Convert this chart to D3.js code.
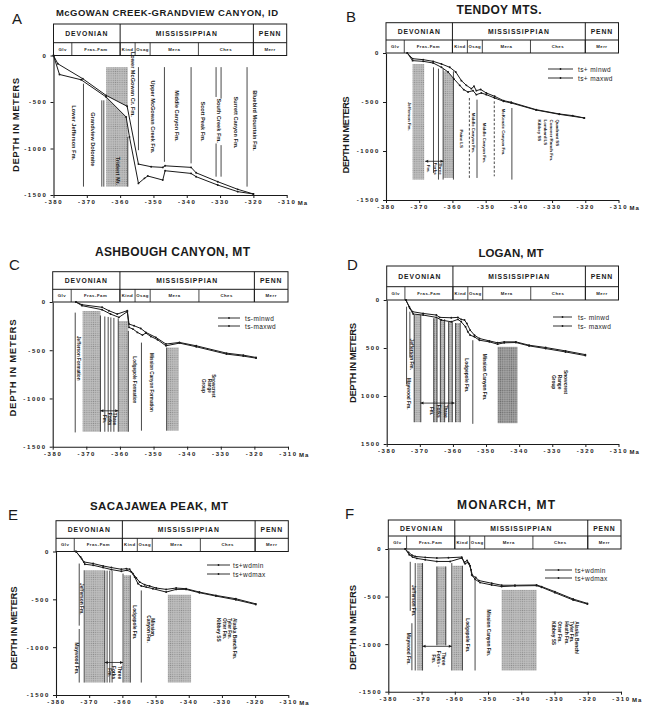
<!DOCTYPE html>
<html>
<head>
<meta charset="utf-8">
<script src="https://cdn.jsdelivr.net/npm/d3@7"></script>
<style>
  body { margin: 0; background: #fff; }
  svg { font-family: "Liberation Sans", Arial, sans-serif; }
</style>
</head>
<body>
<script>
// shared time scale (Ma)
const periods = [["DEVONIAN", -380, -360], ["MISSISSIPPIAN", -360, -320], ["PENN", -320, -310]];
const stages = [["Glv", -380, -374.5], ["Fras-Fam", -374.5, -360], ["Kind", -360, -355.5], ["Osag", -355.5, -351],
                ["Mera", -351, -336.5], ["Ches", -336.5, -320], ["Merr", -320, -310]];
const xTicks = [-380, -370, -360, -350, -340, -330, -320, -310];
const yTicks = [0, -500, -1000, -1500];

const titles = ["McGOWAN CREEK-GRANDVIEW CANYON, ID", "TENDOY MTS.", "ASHBOUGH CANYON, MT", "LOGAN, MT", "SACAJAWEA PEAK, MT", "MONARCH,  MT"];
const letters = ["A", "B", "C", "D", "E", "F"];
const legendNames = [null, ["ts+ minwd", "ts+ maxwd"], ["ts-minwd", "ts-maxwd"], ["ts- minwd", "ts- maxwd"],
                     ["ts+wdmin", "ts+wdmax"], ["ts+wdmin", "ts+wdmax"]];

// curves: [Ma, depth m]
const aMin = [[-380,0],[-378.7,-89],[-371.2,-250],[-364.2,-429],[-357.9,-546],[-354.5,-1168],[-350.7,-1196],[-347.2,-1203],
  [-346.5,-1186],[-338.7,-1203],[-337.2,-1261],[-330.7,-1357],[-324.7,-1439],[-320,-1489]];
const aMax = [[-380,0],[-378.2,-204],[-371.7,-261],[-364.2,-446],[-358.2,-661],[-357.2,-875],[-354.5,-1375],[-352.7,-1321],
  [-351.7,-1296],[-347.2,-1339],[-346.5,-1239],[-338.7,-1268],[-337.2,-1303],[-330.7,-1393],[-324.7,-1464],[-320,-1489]];
const bMin = [[-373.6,0],[-372.0,-58],[-368.8,-68],[-365.8,-85],[-363.3,-112],[-360.8,-146],[-359.0,-194],[-357.3,-282],
  [-355.8,-330],[-354.3,-364],[-353.5,-340],[-352.8,-384],[-351.5,-372],[-349.8,-408],[-347.3,-442],[-344.6,-486],
  [-342.3,-503],[-334.8,-578],[-327.8,-622],[-323.8,-639],[-320.3,-663]];
const bMax = [[-373.6,0],[-372.0,-78],[-368.8,-85],[-365.8,-102],[-363.3,-146],[-361.3,-194],[-359.6,-262],[-357.8,-330],
  [-356.6,-374],[-355.3,-398],[-353.8,-384],[-352.8,-425],[-351.3,-408],[-349.8,-425],[-347.3,-459],[-344.6,-493],
  [-342.3,-510],[-334.8,-582],[-327.8,-626],[-320.3,-663]];
const cMin = [[-373.1,0],[-371.3,-28],[-365.3,-55],[-363.3,-90],[-360.8,-125],[-357.8,-90],[-357.3,-229],[-355.8,-246],
  [-353.8,-274],[-352.3,-315],[-349.3,-367],[-346.3,-436],[-342.3,-419],[-337.3,-454],[-328.3,-530],[-323.3,-551],[-319.5,-575]];
const cMax = [[-373.1,0],[-371.3,-38],[-365.3,-80],[-362.8,-125],[-360.3,-159],[-357.8,-100],[-357.3,-263],[-356.1,-281],
  [-354.8,-315],[-353.3,-343],[-352.3,-322],[-350.8,-357],[-348.8,-391],[-346.3,-454],[-342.3,-426],[-337.3,-464],
  [-328.3,-540],[-323.3,-561],[-319.5,-582]];
const dMin = [[-374.2,0],[-373.2,-70],[-372.2,-122],[-369.0,-140],[-365.0,-157],[-364.0,-181],[-360.5,-185],[-358.5,-181],
  [-357.5,-202],[-356.5,-209],[-355.8,-244],[-354.8,-314],[-353.5,-366],[-352.0,-401],[-349.0,-426],[-346.5,-446],
  [-344.5,-436],[-341.0,-436],[-337.0,-471],[-332.0,-495],[-326.0,-530],[-320.0,-569]];
const dMax = [[-374.2,0],[-373.0,-87],[-372.0,-146],[-369.0,-157],[-365.0,-181],[-363.5,-209],[-360.5,-227],[-358.5,-202],
  [-357.5,-227],[-356.2,-279],[-355.5,-331],[-354.8,-366],[-353.5,-384],[-352.0,-419],[-349.0,-436],[-346.5,-460],
  [-344.5,-446],[-341.0,-443],[-337.0,-478],[-332.0,-506],[-326.0,-541],[-320.0,-579]];
const eMin = [[-374.0,0],[-372.6,-56],[-371.6,-109],[-368.8,-126],[-365.8,-151],[-363.3,-168],[-360.3,-186],[-358.8,-179],
  [-357.8,-186],[-356.8,-231],[-355.8,-277],[-354.8,-319],[-353.3,-347],[-351.8,-361],[-349.8,-382],[-346.8,-396],
  [-343.8,-382],[-340.8,-389],[-336.8,-424],[-331.8,-459],[-325.8,-494],[-319.8,-547]];
const eMax = [[-374.0,0],[-372.3,-74],[-371.3,-133],[-368.8,-144],[-365.8,-168],[-363.3,-189],[-360.3,-207],[-358.6,-196],
  [-357.3,-214],[-356.3,-266],[-355.3,-336],[-354.3,-361],[-352.8,-372],[-350.8,-389],[-346.8,-424],[-343.8,-396],
  [-340.8,-396],[-336.8,-431],[-331.8,-466],[-325.8,-505],[-319.8,-554]];
const fMin = [[-374.9,0],[-373.9,-35],[-372.9,-64],[-371.9,-78],[-368.9,-88],[-365.4,-95],[-361.9,-92],[-357.9,-85],
  [-357.1,-141],[-356.3,-120],[-355.7,-155],[-355.1,-219],[-354.7,-279],[-353.7,-300],[-352.7,-332],[-348.9,-360],
  [-345.9,-381],[-341.9,-381],[-335.4,-378],[-333.9,-395],[-329.9,-448],[-324.4,-526],[-320.1,-572]];
const fMax = [[-374.9,0],[-373.7,-60],[-372.7,-85],[-371.4,-99],[-368.9,-113],[-365.4,-131],[-361.4,-131],[-357.9,-95],
  [-356.9,-155],[-356.1,-141],[-355.4,-176],[-354.9,-272],[-353.9,-318],[-352.4,-353],[-348.9,-378],[-345.9,-395],
  [-341.9,-388],[-335.4,-385],[-333.9,-402],[-329.9,-459],[-324.4,-536],[-320.1,-579]];

// formation boundaries: [Ma, top, bottom, dashed]
const aLines = [[-371.0,-303,-1410],[-365.5,-482,-1410],[-364.9,-482,-1410],[-357.7,-875,-1410],[-354.5,-125,-1018],
  [-346.7,-125,-1143],[-338.7,-125,-1160],[-331.2,-125,-446],[-331.2,-946,-1303],[-329.7,-125,-464],[-329.7,-964,-1303],
  [-321.9,-125,-1410]];
const bLines = [[-365.7,-146,-1224],[-364.2,-160,-1292],[-362.8,-160,-1292],[-359.7,-187,-1292],[-354.9,-459,-1292,1],
  [-352.6,-476,-1275],[-347.4,-493,-1258,1],[-342.1,-561,-1292]];
const cLines = [[-373.3,-110,-1352],[-365.8,-140,-1345],[-364.5,-150,-1345],[-363.5,-155,-1345],[-362.7,-160,-1345],
  [-361.8,-165,-1345],[-360.5,-170,-1345],[-357.5,-300,-1345],[-353.6,-421,-1334],[-346.1,-472,-1334]];
const dLines = [[-374.0,-70,-880],[-373.0,-122,-600],[-371.7,-157,-1273],[-369.7,-157,-1273],[-365.8,-190,-1273],
  [-364.8,-190,-1273],[-363.8,-200,-1273],[-362.5,-200,-1273],[-361.3,-227,-1273],[-360.2,-227,-1273],
  [-359.2,-240,-1273],[-357.8,-240,-1273],[-354.0,-419,-1290]];
const eLines = [[-373.0,-126,-775],[-373.0,-810,-1370],[-371.5,-196,-1370],[-365.3,-200,-1370],[-364.6,-200,-1370],
  [-363.8,-200,-1370],[-363.1,-200,-1370],[-359.8,-231,-1370],[-357.6,-249,-1370],[-354.3,-407,-1370]];
const fLines = [[-373.4,-135,-650],[-372.9,-780,-1275],[-371.9,-148,-1277],[-369.7,-148,-1277],[-365.4,-184,-1013],
  [-362.7,-184,-1013],[-360.9,-148,-1277],[-357.7,-176,-1277],[-353.9,-325,-1277]];

// shaded units: [Ma from, Ma to, top, bottom, dense]
const aRects = [[-364.2,-357.7,-125,-1410]];
const bRects = [[-372.0,-368.5,-112,-1292],[-362.7,-359.7,-187,-1275]];
const cRects = [[-371.1,-365.8,-93,-1345],[-360.5,-357.5,-197,-1345],[-346.1,-342.5,-472,-1334]];
const dRects = [[-371.7,-369.7,-157,-1273],[-365.8,-364.8,-190,-1273],[-363.8,-362.5,-200,-1273],[-361.3,-360.2,-227,-1273],
  [-359.2,-357.8,-240,-1273],[-346.5,-340.5,-488,-1283,1]];
const eRects = [[-371.3,-365.3,-196,-1370],[-359.6,-357.6,-249,-1370],[-346.3,-339.3,-452,-1370]];
const fRects = [[-371.4,-369.7,-148,-1277],[-365.4,-362.7,-184,-1013],[-360.7,-357.7,-176,-1277],[-345.9,-335.4,-430,-1277]];

// Three Forks arrows: [Ma from, Ma to, depth]
const bArrows = [[-368.2,-362.7,-1105]];
const cArrows = [[-365.8,-360.5,-1128]];
const dArrows = [[-369.8,-359.5,-1074]];
const eArrows = [[-365.3,-359.8,-1160]];
const fArrows = [[-369.7,-360.9,-1023]];

// formation names (rotated): [text, Ma, depth, anchor]
const aLabels = [["Lower Jefferson Fm.",-373.9,-830],["Grandview Dolomite",-368.2,-900],["Trident Mr.",-360.6,-1240],
  ["Lower McGowan Cr. Fm.",-356.0,-310],["Upper McGowan Creek Fm.",-350.2,-660],["Middle Canyon Fm.",-343.0,-650],
  ["Scott Peak Fm.",-335.0,-710],["South Creek Fm.",-330.4,-700],["Surrett Canyon Fm.",-325.2,-720],
  ["Bluebird Mountain Fm.",-319.5,-700]];
const bLabels = [["Jefferson Fm.",-372.8,-646],["Fm.",-367.3,-1180],["Forks",-365.0,-1180],["Three",-363.5,-1180],
  ["Paine LS",-357.2,-874],["Middle Canyon Fm.",-353.6,-815],["Middle Canyon Fm.",-350.3,-917],
  ["McKenzie Canyon Fm.",-344.6,-806],["Quadrant SS",-328.3,-679,"start"],["Conover Ranch Fm.",-330.3,-679,"start"],
  ["Lombard LS",-332.1,-679,"start"],["Kibbey SS",-333.8,-679,"start"]];
const cLabels = [["Jefferson Formation",-372.3,-583],["Fm.",-364.5,-1214],["Forks",-363.1,-1214],["Three",-361.5,-1214],
  ["Lodgepole Formation",-355.8,-807],["Mission Canyon Formation",-350.5,-834],["Snowcrest",-332.1,-869],
  ["Range",-333.5,-869],["Group",-335.1,-869]];
const dLabels = [["Jefferson Fm.",-372.5,-565],["Maywood Fm.",-373.5,-977],["Fm.",-366.5,-1158],["Forks",-364.5,-1158],
  ["Three",-362.3,-1158],["Lodgepole Fm.",-355.8,-785],["Mission Canyon Fm.",-350.5,-802],["Snowcrest",-326.0,-855],
  ["Range",-327.7,-855],["Group",-329.5,-855]];
const eLabels = [["Jefferson Fm.",-372.3,-494],["Maywood Fm.",-373.8,-1118],["Fm.",-364.0,-1265],["Forks",-362.6,-1265],
  ["Three",-360.8,-1265],["Lodgepole Fm.",-356.3,-740],["Mission",-350.8,-790],["Canyon Fm.",-352.0,-810],
  ["Alaska Bench Fm.",-326.3,-694,"start"],["Tyler Fm.",-327.6,-694,"start"],["Otter Fm.",-329.1,-694,"start"],
  ["Kibbey SS",-331.1,-694,"start"]];
const fLabels = [["Jefferson Fm.",-372.4,-543],["Maywood Fm.",-373.9,-1048],["Three",-363.4,-1154],["Forks -",-364.9,-1154],
  ["Fm.",-366.4,-1154],["Lodgepole Fm.",-356.1,-907],["Mission Canyon Fm.",-349.9,-882],
  ["Alaska Bench/",-323.3,-760,"start"],["Tyler Fm.",-324.8,-760,"start"],["Heath Fm.",-326.3,-760,"start"],
  ["Otter Fm.",-328.4,-760,"start"],["Kibbey SS",-330.2,-760,"start"]];

// panel placement on the page
const boxes = [
  {ax:53.5, right:286.7, ht:24, hm:42.7, y0:55.5, y1:195, tx:167, ty:15.5, tw:222, ts:9.5, lx:12, ly:23.5, yx:15, yy:125, yw:94, fs:5.6},
  {ax:386, right:618.5, ht:22.7, hm:40, y0:53, y1:200, tx:499, ty:13.5, tw:85, ts:12, lx:346, ly:22, yx:345, yy:135, yw:77, fs:4.4, leg:[548,573,578,69,78]},
  {ax:52.7, right:288, ht:271.7, hm:289.3, y0:302, y1:446.7, tx:172.5, ty:256, tw:155, ts:12, lx:9, ly:270, yx:12, yy:368, yw:97, fs:4.6, leg:[218,240,245,318,326]},
  {ax:386.7, right:618.5, ht:266, hm:286.7, y0:300, y1:444, tx:511, ty:257, tw:65, ts:11.5, lx:347, ly:270, yx:352, yy:363, yw:80, fs:4.8, leg:[553,572,578,317,326], abs:true},
  {ax:56, right:288.3, ht:520.7, hm:538.3, y0:551.5, y1:695, tx:159, ty:510, tw:138, ts:11.5, lx:8, ly:520, yx:13, yy:628, yw:83, fs:4.8, leg:[207,230,233,565,574]},
  {ax:388.3, right:621, ht:520, hm:536, y0:549, y1:691.7, tx:506, ty:509, tw:98, ts:12, lx:345, ly:519, yx:352, yy:627.5, yw:85, fs:4.8, leg:[545,572,575,570,578]}
];
const content = [
  [aMin, aMax, aLines, aRects, [], aLabels],
  [bMin, bMax, bLines, bRects, bArrows, bLabels],
  [cMin, cMax, cLines, cRects, cArrows, cLabels],
  [dMin, dMax, dLines, dRects, dArrows, dLabels],
  [eMin, eMax, eLines, eRects, eArrows, eLabels],
  [fMin, fMax, fLines, fRects, fArrows, fLabels]
];

const svg = d3.select("body").append("svg").attr("width", 650).attr("height", 715);
const ink = "#1a1a1a";

// stipple fills, low contrast so they read as a fine grey
const defs = svg.append("defs");
const p1 = defs.append("pattern").attr("id", "stip").attr("width", 2.2).attr("height", 2.2).attr("patternUnits", "userSpaceOnUse");
p1.append("rect").attr("width", 2.2).attr("height", 2.2).attr("fill", "#bdbdbd");
p1.append("circle").attr("cx", 1.1).attr("cy", 1.1).attr("r", 0.6).attr("fill", "#8c8c8c");
const p2 = defs.append("pattern").attr("id", "stipD").attr("width", 2.2).attr("height", 2.2).attr("patternUnits", "userSpaceOnUse");
p2.append("rect").attr("width", 2.2).attr("height", 2.2).attr("fill", "#a6a6a6");
p2.append("circle").attr("cx", 1.1).attr("cy", 1.1).attr("r", 0.7).attr("fill", "#6e6e6e");

function drawPanel(L, C, i) {
  const [cmin, cmax, lines, rects, arrows, labels] = C;
  const x = d3.scaleLinear().domain([-380, -310]).range([L.ax, L.right]);
  const y = d3.scaleLinear().domain([0, -1500]).range([L.y0, L.y1]);
  const g = svg.append("g");

  // title, letter, y label
  g.append("text").attr("x", L.tx).attr("y", L.ty).attr("text-anchor", "middle")
    .attr("font-size", L.ts).attr("font-weight", "bold").attr("textLength", L.tw).attr("lengthAdjust", "spacing")
    .attr("fill", ink).text(titles[i]);
  g.append("text").attr("x", L.lx).attr("y", L.ly).attr("font-size", 15).attr("fill", ink).text(letters[i]);
  g.append("text").attr("transform", `translate(${L.yx},${L.yy}) rotate(-90)`).attr("text-anchor", "middle")
    .attr("dominant-baseline", "central").attr("font-size", 9.5).attr("font-weight", "bold")
    .attr("textLength", L.yw).attr("lengthAdjust", "spacing").attr("fill", ink).text("DEPTH IN METERS");

  // time-scale header
  const hb = L.y0;
  g.append("rect").attr("x", L.ax).attr("y", L.ht).attr("width", L.right - L.ax).attr("height", hb - L.ht)
    .attr("fill", "none").attr("stroke", ink).attr("stroke-width", 1);
  g.append("line").attr("x1", L.ax).attr("x2", L.right).attr("y1", L.hm).attr("y2", L.hm).attr("stroke", ink);
  g.selectAll(null).data(periods.slice(1)).join("line")
    .attr("x1", d => x(d[1])).attr("x2", d => x(d[1])).attr("y1", L.ht).attr("y2", hb).attr("stroke", ink);
  g.selectAll(null).data(stages.slice(1)).join("line")
    .attr("x1", d => x(d[1])).attr("x2", d => x(d[1])).attr("y1", L.hm).attr("y2", hb).attr("stroke", ink).attr("stroke-width", 0.8);
  g.selectAll(null).data(periods).join("text")
    .attr("x", d => x((d[1] + d[2]) / 2)).attr("y", (L.ht + L.hm) / 2).attr("dominant-baseline", "central")
    .attr("text-anchor", "middle").attr("font-size", 6.8).attr("font-weight", "bold").attr("letter-spacing", 0.9)
    .attr("fill", ink).text(d => d[0]);
  g.selectAll(null).data(stages).join("text")
    .attr("x", d => x((d[1] + d[2]) / 2)).attr("y", (L.hm + hb) / 2).attr("dominant-baseline", "central")
    .attr("text-anchor", "middle").attr("font-size", 4.3).attr("font-weight", "bold").attr("letter-spacing", 0.5)
    .attr("fill", ink).text(d => d[0]);

  // shaded units
  g.selectAll(null).data(rects).join("rect")
    .attr("x", d => x(d[0])).attr("width", d => x(d[1]) - x(d[0]))
    .attr("y", d => y(d[2])).attr("height", d => y(d[3]) - y(d[2]))
    .attr("fill", d => d[4] ? "url(#stipD)" : "url(#stip)");

  // keep the band between the two curves white
  const band = cmin.concat(cmax.slice().reverse());
  g.append("path").attr("d", "M" + band.map(p => x(p[0]) + "," + y(p[1])).join("L") + "Z").attr("fill", "#fff");

  // formation boundaries
  g.selectAll(null).data(lines).join("line")
    .attr("x1", d => x(d[0])).attr("x2", d => x(d[0])).attr("y1", d => y(d[1])).attr("y2", d => y(d[2]))
    .attr("stroke", ink).attr("stroke-width", 0.8).attr("stroke-dasharray", d => d[3] ? "2.5,1.8" : null);

  // arrows
  arrows.forEach(a => {
    const x0 = x(a[0]), x1 = x(a[1]), yy = y(a[2]);
    g.append("line").attr("x1", x0).attr("x2", x1).attr("y1", yy).attr("y2", yy).attr("stroke", ink).attr("stroke-width", 0.8);
    g.append("path").attr("d", `M${x0},${yy}l3,-1.5v3z M${x1},${yy}l-3,-1.5v3z`).attr("fill", ink);
  });

  // formation names
  g.selectAll(null).data(labels).join("text")
    .attr("transform", d => `translate(${x(d[1])},${y(d[2])}) rotate(90)`)
    .attr("text-anchor", d => d[3] || "middle").attr("dominant-baseline", "central")
    .attr("font-size", L.fs).attr("font-weight", "bold").attr("fill", ink).text(d => d[0]);

  // subsidence curves
  const line = d3.line().x(d => x(d[0])).y(d => y(d[1]));
  [cmin, cmax].forEach(c => {
    g.append("path").attr("d", line(c)).attr("fill", "none").attr("stroke", ink).attr("stroke-width", 1);
    g.selectAll(null).data(c).join("circle").attr("cx", d => x(d[0])).attr("cy", d => y(d[1])).attr("r", 0.95).attr("fill", ink);
  });

  // axes
  const xa = g.append("g").attr("transform", `translate(0,${L.y1})`)
    .call(d3.axisBottom(x).tickValues(xTicks).tickSize(3).tickSizeOuter(0).tickPadding(2).tickFormat(d => String(d)));
  const ya = g.append("g").attr("transform", `translate(${L.ax},0)`)
    .call(d3.axisLeft(y).tickValues(yTicks).tickSize(3).tickSizeOuter(0).tickPadding(3)
      .tickFormat(d => String(L.abs ? Math.abs(d) : d)));
  [xa, ya].forEach(a => {
    a.attr("font-family", null);
    a.select(".domain").attr("stroke", ink).attr("stroke-width", 1.1);
    a.selectAll(".tick line").attr("stroke", ink);
    a.selectAll("text").attr("font-size", 6).attr("font-weight", "bold").attr("letter-spacing", 1.6).attr("fill", ink);
  });
  g.append("text").attr("x", x(-310) + 11).attr("y", L.y1 + 10).attr("font-size", 6).attr("font-weight", "bold")
    .attr("letter-spacing", 1).attr("fill", ink).text("Ma");

  // legend
  if (L.leg) {
    const [l0, l1, tx, r1, r2] = L.leg;
    legendNames[i].forEach((name, k) => {
      const yy = k ? r2 : r1;
      g.append("line").attr("x1", l0).attr("x2", l1).attr("y1", yy).attr("y2", yy).attr("stroke", ink).attr("stroke-width", 0.9);
      g.append("circle").attr("cx", (l0 + l1) / 2).attr("cy", yy).attr("r", 0.9).attr("fill", ink);
      g.append("text").attr("x", tx).attr("y", yy).attr("dominant-baseline", "central").attr("font-size", 6.5)
        .attr("letter-spacing", 0.4).attr("fill", ink).text(name);
    });
  }
}

boxes.forEach((L, i) => drawPanel(L, content[i], i));
</script>
</body>
</html>
